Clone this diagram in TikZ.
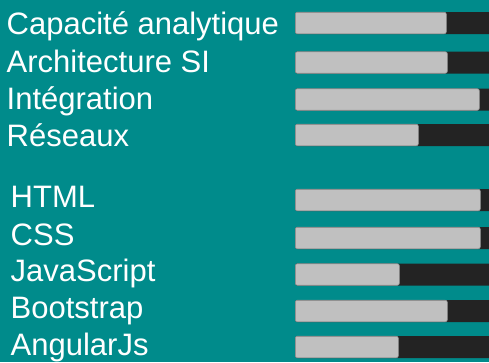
\documentclass[tikz,border=0pt]{standalone}
\usepackage{fontspec}
\setmainfont{Liberation Sans}
\definecolor{teal bg}{RGB}{0,139,139}
\definecolor{track dark}{RGB}{35,35,35}
\definecolor{level gray}{RGB}{192,192,192}
\definecolor{level edge}{RGB}{150,150,150}
\tikzstyle{SkillLabel}=[anchor=base west, inner sep=0pt, text=white, font=\fontsize{31}{34}\selectfont]
\tikzstyle{TrackBar}=[anchor=west, rectangle, rounded corners=2pt, fill=track dark, minimum width=220pt, minimum height=22pt, inner sep=0pt]
\tikzstyle{LevelBar}=[anchor=west, rectangle, rounded corners=2pt, fill=level gray, draw=level edge, line width=0.6pt, minimum height=21.5pt, inner sep=0pt]

\begin{document}
\begin{tikzpicture}[x=1pt,y=-1pt]
\fill[teal bg] (0,0) rectangle (489,362);
\useasboundingbox (0,0) rectangle (489,362);
\clip (0,0) rectangle (489,362);

\node[SkillLabel](lblAnalyse) at (6.5,34) {Capacité analytique};
\node[SkillLabel](lblArchi) at (6.5,72.5) {Architecture SI};
\node[SkillLabel](lblInteg) at (6.5,109.5) {Intégration};
\node[SkillLabel](lblReseau) at (6.5,146) {Réseaux};

\node[TrackBar](1track) at (295,23) {};
\node[LevelBar, minimum width=151pt](1level) at (295,23) {};
\node[TrackBar](2track) at (295,62.5) {};
\node[LevelBar, minimum width=152pt](2level) at (295,62.5) {};
\node[TrackBar](3track) at (295,99.5) {};
\node[LevelBar, minimum width=184pt](3level) at (295,99.5) {};
\node[TrackBar](4track) at (295,135) {};
\node[LevelBar, minimum width=123pt](4level) at (295,135) {};

%%%%%%%%%%%%%%%%%%%%%%%%%%%%%%%%%%%%%%%%%

\node[SkillLabel](lblHtml) at (10.5,207.3) {HTML};
\node[SkillLabel](lblCss) at (10.5,245) {CSS};
\node[SkillLabel](lblJs) at (10.5,281.7) {JavaScript};
\node[SkillLabel](lblBoot) at (10.5,318) {Bootstrap};
\node[SkillLabel](lblAngular) at (10.5,355.7) {AngularJs};

\node[TrackBar](5track) at (295,200) {};
\node[LevelBar, minimum width=185pt](5level) at (295,200) {};
\node[TrackBar](6track) at (295,238) {};
\node[LevelBar, minimum width=185pt](6level) at (295,238) {};
\node[TrackBar](7track) at (295,274.5) {};
\node[LevelBar, minimum width=104pt](7level) at (295,274.5) {};
\node[TrackBar](8track) at (295,311) {};
\node[LevelBar, minimum width=152pt](8level) at (295,311) {};
\node[TrackBar](9track) at (295,347) {};
\node[LevelBar, minimum width=103pt](9level) at (295,347) {};
\end{tikzpicture}
\end{document}
